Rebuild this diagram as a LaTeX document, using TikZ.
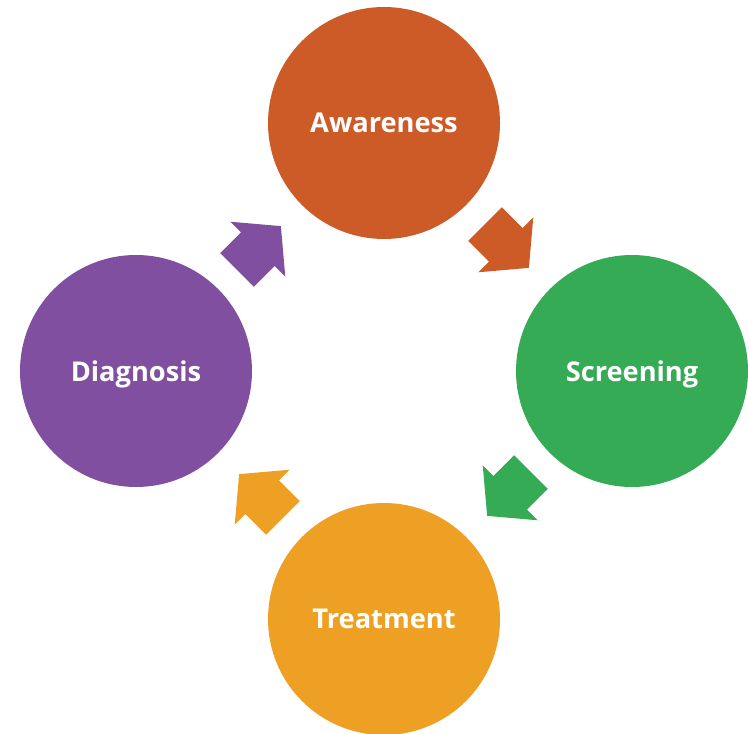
\documentclass[tikz,border=0pt]{standalone}
\usepackage{fontspec}
\setmainfont{Open Sans}
\usetikzlibrary{shapes.arrows, calc}

\definecolor{awareorange}{RGB}{205,91,40}
\definecolor{screengreen}{RGB}{53,171,85}
\definecolor{treatyellow}{RGB}{237,160,36}
\definecolor{diagpurple}{RGB}{129,79,160}

\begin{document}
\begin{tikzpicture}[
    every node/.style={font=\bfseries\fontsize{15.5}{19}\selectfont},
    stage/.style={
        circle,
        draw=none,
        minimum size=4.64cm,
        text depth=0pt,
        text=white,
        align=center
    },
    cyclearrow/.style={
        single arrow,
        draw=none,
        minimum height=1.24cm,
        inner xsep=0pt,
        inner ysep=0.47cm,
        single arrow head extend=0.3cm,
        single arrow tip angle=100,
        xshift=-0.23cm
    }
]
\useasboundingbox (0,0) rectangle (14.96,14.66);

% ==================== STAGES ====================
\node[stage, fill=awareorange] (aware) at (7.68,12.2) {Awareness};
\node[stage, fill=screengreen] (screen) at (12.64,7.24) {Screening};
\node[stage, fill=treatyellow] (treat) at (7.68,2.28) {Treatment};
\node[stage, fill=diagpurple] (diag) at (2.72,7.24) {Diagnosis};

% ==================== CYCLE ARROWS ====================
\node[rotate=-45, cyclearrow, fill=awareorange] (a2s) at ($(aware)!0.5!(screen)$) {};
\node[rotate=-135, cyclearrow, fill=screengreen] (s2t) at ($(screen)!0.5!(treat)$) {};
\node[rotate=135, cyclearrow, fill=treatyellow] (t2d) at ($(treat)!0.5!(diag)$) {};
\node[rotate=45, cyclearrow, fill=diagpurple] (d2a) at ($(diag)!0.5!(aware)$) {};

\end{tikzpicture}
\end{document}
